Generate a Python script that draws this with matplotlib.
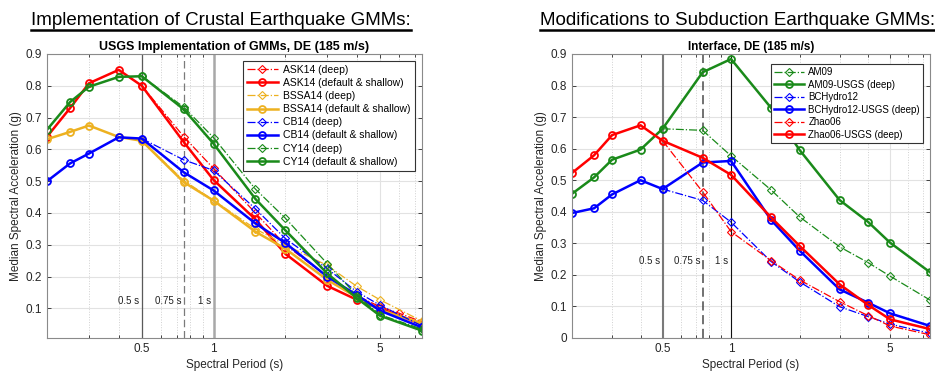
import numpy as np
import matplotlib
matplotlib.use('Agg')
import matplotlib.pyplot as plt
from matplotlib.lines import Line2D
from matplotlib.ticker import FixedLocator, NullFormatter

plt.rcParams['font.family'] = ['Liberation Sans', 'DejaVu Sans']

# spectral periods (s)
periods = [0.2, 0.25, 0.3, 0.4, 0.5, 0.75, 1, 1.5, 2, 3, 4, 5, 7.5]
deep_periods = [0.5, 0.75, 1, 1.5, 2, 3, 4, 5, 7.5]
ask_deep_periods = [0.5, 0.75, 1, 1.5, 2, 3, 4, 5, 6, 7.5]

# crustal GMMs (left panel)
ask14_deep = [0.80, 0.64, 0.54, 0.40, 0.30, 0.20, 0.14, 0.105, 0.085, 0.058]
ask14 = [0.64, 0.73, 0.808, 0.85, 0.80, 0.623, 0.504, 0.38, 0.272, 0.171, 0.127, 0.10, 0.05]
bssa14_deep = [0.627, 0.502, 0.44, 0.35, 0.30, 0.235, 0.169, 0.127, 0.06]
bssa14 = [0.632, 0.655, 0.675, 0.639, 0.627, 0.497, 0.439, 0.341, 0.288, 0.19, 0.135, 0.095, 0.053]
cb14_deep = [0.634, 0.567, 0.534, 0.413, 0.32, 0.225, 0.152, 0.11, 0.045]
cb14 = [0.50, 0.556, 0.587, 0.638, 0.634, 0.528, 0.471, 0.367, 0.306, 0.20, 0.142, 0.093, 0.04]
cy14_deep = [0.83, 0.733, 0.637, 0.475, 0.384, 0.241, 0.14, 0.08, 0.035]
cy14 = [0.662, 0.749, 0.797, 0.828, 0.83, 0.726, 0.618, 0.444, 0.346, 0.21, 0.132, 0.077, 0.03]

# subduction interface GMMs (right panel)
am09 = [0.663, 0.658, 0.577, 0.469, 0.384, 0.289, 0.239, 0.196, 0.120]
am09_usgs = [0.457, 0.509, 0.565, 0.597, 0.663, 0.842, 0.884, 0.729, 0.596, 0.437, 0.368, 0.302, 0.208]
bchydro12 = [0.472, 0.436, 0.367, 0.242, 0.178, 0.099, 0.068, 0.044, 0.015]
bchydro12_usgs = [0.396, 0.411, 0.455, 0.50, 0.472, 0.556, 0.561, 0.374, 0.277, 0.154, 0.112, 0.078, 0.038]
zhao06 = [0.625, 0.463, 0.337, 0.245, 0.184, 0.115, 0.071, 0.038, 0.010]
zhao06_usgs = [0.523, 0.579, 0.643, 0.674, 0.625, 0.571, 0.517, 0.382, 0.292, 0.170, 0.105, 0.059, 0.028]

RED = '#ff0000'
YEL = '#edb120'
BLU = '#0000ff'
GRN = '#1a8a1a'
AXC = '#262626'


def plot_pair(ax, xd, yd, xs, ys, color, name_d, name_s):
    ax.plot(xd, yd, '-.', color=color, lw=0.9, marker='D', ms=4.5,
            mfc='none', mec=color, mew=0.8, label=name_d)
    ax.plot(xs, ys, '-', color=color, lw=1.8, marker='o', ms=5,
            mfc='none', mec=color, mew=1.3, label=name_s)


def style_axes(ax, ylim, yticks):
    ax.set_xscale('log')
    ax.set_xlim(0.2, 7.5)
    ax.set_ylim(*ylim)
    ax.set_yticks(yticks)
    ax.set_yticklabels(['%g' % v for v in yticks])
    ax.xaxis.set_major_locator(FixedLocator([0.5, 1, 5]))
    ax.set_xticklabels(['0.5', '1', '5'])
    ax.xaxis.set_minor_locator(FixedLocator([0.2, 0.3, 0.4, 0.6, 0.7, 0.8, 0.9,
                                             2, 3, 4, 6, 7]))
    ax.xaxis.set_minor_formatter(NullFormatter())
    ax.grid(True, which='major', axis='both', color='#e2e2e2', lw=0.8)
    ax.grid(True, which='minor', axis='x', color='#d0d0d0', lw=0.7, ls=':')
    ax.set_axisbelow(True)
    ax.tick_params(which='both', direction='in', top=True, right=True,
                   colors=AXC, labelsize=8.5, length=3, width=0.6)
    ax.tick_params(which='minor', length=2)
    for s in ax.spines.values():
        s.set_color('#8a8a8a')
        s.set_linewidth(0.8)
    ax.set_xlabel('Spectral Period (s)', fontsize=8.5, color=AXC, labelpad=3)
    ax.set_ylabel('Median Spectral Acceleration (g)', fontsize=8.5, color=AXC, labelpad=3)


fig = plt.figure(figsize=(9.35, 3.71), dpi=100)
ax1 = fig.add_axes([0.0503, 0.089, 0.401, 0.7655])
ax2 = fig.add_axes([0.6118, 0.089, 0.383, 0.7655])

# left panel
style_axes(ax1, (0.007, 0.9), [0.1, 0.2, 0.3, 0.4, 0.5, 0.6, 0.7, 0.8, 0.9])
ax1.axvline(0.5, color='#5a5a5a', lw=0.9, zorder=1)
ax1.axvline(0.75, color='#7a7a7a', lw=0.9, ls=(0, (6, 3)), zorder=1)
ax1.axvline(1.0, color='#a8a8a8', lw=1.8, zorder=1)
plot_pair(ax1, ask_deep_periods, ask14_deep, periods, ask14, RED,
          'ASK14 (deep)', 'ASK14 (default & shallow)')
plot_pair(ax1, deep_periods, bssa14_deep, periods, bssa14, YEL,
          'BSSA14 (deep)', 'BSSA14 (default & shallow)')
plot_pair(ax1, deep_periods, cb14_deep, periods, cb14, BLU,
          'CB14 (deep)', 'CB14 (default & shallow)')
plot_pair(ax1, deep_periods, cy14_deep, periods, cy14, GRN,
          'CY14 (deep)', 'CY14 (default & shallow)')
for xv, lab in [(0.5, '0.5 s'), (0.75, '0.75 s'), (1.0, '1 s')]:
    ax1.text(xv * 0.975, 0.123, lab, ha='right', va='center', fontsize=7, color='#222222')
ax1.set_title('USGS Implementation of GMMs, DE (185 m/s)', fontsize=9,
              fontweight='bold', pad=3)
leg1 = ax1.legend(loc='upper right', fontsize=7.5, frameon=True, fancybox=False,
                  edgecolor='#333333', framealpha=1, handlelength=3.0,
                  borderpad=0.4, labelspacing=0.3, handletextpad=0.5,
                  bbox_to_anchor=(0.995, 0.995))
leg1.get_frame().set_linewidth(0.8)

# right panel
style_axes(ax2, (0, 0.9), [0, 0.1, 0.2, 0.3, 0.4, 0.5, 0.6, 0.7, 0.8, 0.9])
ax2.axvline(0.5, color='#7a7a7a', lw=1.5, zorder=1)
ax2.axvline(0.75, color='#4a4a4a', lw=1.1, ls=(0, (6, 3)), zorder=1)
ax2.axvline(1.0, color='#111111', lw=0.8, zorder=1)
plot_pair(ax2, deep_periods, am09, periods, am09_usgs, GRN,
          'AM09', 'AM09-USGS (deep)')
plot_pair(ax2, deep_periods, bchydro12, periods, bchydro12_usgs, BLU,
          'BCHydro12', 'BCHydro12-USGS (deep)')
plot_pair(ax2, deep_periods, zhao06, periods, zhao06_usgs, RED,
          'Zhao06', 'Zhao06-USGS (deep)')
for xv, lab in [(0.5, '0.5 s'), (0.75, '0.75 s'), (1.0, '1 s')]:
    ax2.text(xv * 0.975, 0.245, lab, ha='right', va='center', fontsize=7, color='#222222')
ax2.set_title('Interface, DE (185 m/s)', fontsize=8.5, fontweight='bold', pad=3)
leg2 = ax2.legend(loc='upper right', fontsize=7, frameon=True, fancybox=False,
                  edgecolor='#333333', framealpha=1, handlelength=3.0,
                  borderpad=0.35, labelspacing=0.25, handletextpad=0.5,
                  bbox_to_anchor=(0.995, 0.982))
leg2.get_frame().set_linewidth(0.8)

# underlined headings
t1 = fig.text(0.236, 0.946, 'Implementation of Crustal Earthquake GMMs:',
              ha='center', va='center', fontsize=13.5, color='black')
t2 = fig.text(0.789, 0.946, 'Modifications to Subduction Earthquake GMMs:',
              ha='center', va='center', fontsize=13.5, color='black')
fig.canvas.draw()
inv = fig.transFigure.inverted()
for t in (t1, t2):
    bb = t.get_window_extent().transformed(inv)
    fig.add_artist(Line2D([bb.x0, bb.x1], [bb.y0 - 0.004, bb.y0 - 0.004],
                          color='black', lw=1.8, transform=fig.transFigure))

fig.savefig('out.png', dpi=100)
